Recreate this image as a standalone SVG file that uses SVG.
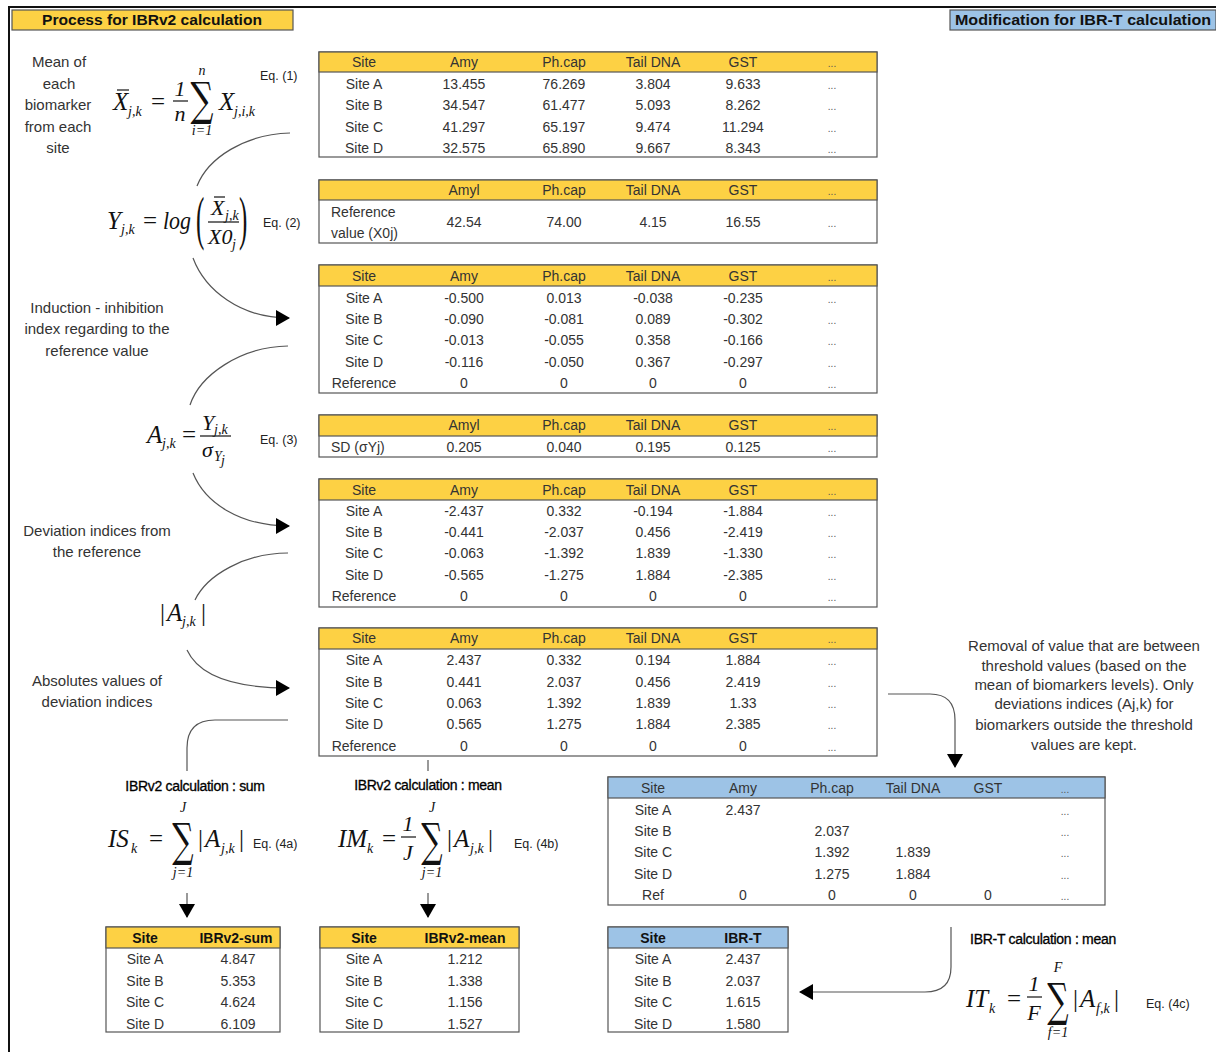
<svg xmlns="http://www.w3.org/2000/svg" width="1216" height="1052" viewBox="0 0 1216 1052">
<defs>
<marker id="ah" markerWidth="14" markerHeight="16" refX="13" refY="8" orient="auto" markerUnits="userSpaceOnUse">
<path d="M0,0 L14,8 L0,16 Z" fill="#000"/>
</marker>
<style>
.t{font-family:"Liberation Sans",Arial,sans-serif;font-size:14px;fill:#333;text-anchor:middle}
.l{font-family:"Liberation Sans",Arial,sans-serif;font-size:14px;fill:#333}
.p{font-family:"Liberation Sans",Arial,sans-serif;font-size:15px;fill:#333;text-anchor:middle}
.d{font-family:"Liberation Sans",Arial,sans-serif;font-size:10px;fill:#555;text-anchor:middle}
.b{font-family:"Liberation Sans",Arial,sans-serif;font-size:14px;font-weight:bold;fill:#111;text-anchor:middle}
.hd{font-family:"Liberation Sans",Arial,sans-serif;font-size:15px;font-weight:bold;fill:#111}
.lab{font-family:"Liberation Sans",Arial,sans-serif;font-size:14px;fill:#000;stroke:#000;stroke-width:0.3;text-anchor:middle;letter-spacing:-0.3px}
.m{font-family:"Liberation Serif","DejaVu Serif",serif;font-style:italic;font-size:25px;fill:#111}
.mf{font-family:"Liberation Serif","DejaVu Serif",serif;font-style:italic;font-size:22px;fill:#111}
.ms{font-family:"Liberation Serif","DejaVu Serif",serif;font-style:italic;font-size:14px;fill:#111}
.mr{font-family:"Liberation Serif","DejaVu Serif",serif;font-size:25px;fill:#111}
.sig{font-family:"DejaVu Serif","Liberation Serif",serif;font-size:46px;fill:#111;text-anchor:middle}
.eq{font-family:"Liberation Sans",Arial,sans-serif;font-size:12.5px;fill:#222}
.box{fill:#fff;stroke:#555;stroke-width:1.2}
.hy{fill:#FDD144;stroke:#555;stroke-width:1.2}
.hb{fill:#9DC3E6;stroke:#555;stroke-width:1.2}
.c{fill:none;stroke:#555;stroke-width:1.2}
.fl{stroke:#111;stroke-width:1.2}
</style>
</defs>
<rect width="1216" height="1052" fill="#fff"/>
<!-- frame -->
<path d="M9,1052 L9,7 L1216,7" fill="none" stroke="#111" stroke-width="2"/>
<g id="hdr-left"><rect x="12" y="10" width="281" height="20" class="hy"/><text x="42" y="25" class="hd" textLength="220" lengthAdjust="spacingAndGlyphs">Process for IBRv2 calculation</text></g>
<g id="hdr-right"><rect x="950" y="10" width="266" height="20" class="hb"/><text x="955" y="25" class="hd" textLength="256" lengthAdjust="spacingAndGlyphs">Modification for IBR-T calculation</text></g>

<!-- left labels -->
<g id="lbl-mean">
<text x="59" y="67" class="p">Mean of</text>
<text x="59" y="89" class="p">each</text>
<text x="58" y="110" class="p">biomarker</text>
<text x="58" y="132" class="p">from each</text>
<text x="58" y="153" class="p">site</text>
</g>
<g id="lbl-induction">
<text x="97" y="313" class="p">Induction - inhibition</text>
<text x="97" y="334" class="p">index regarding to the</text>
<text x="97" y="356" class="p">reference value</text>
</g>
<g id="lbl-dev">
<text x="97" y="536" class="p">Deviation indices from</text>
<text x="97" y="557" class="p">the reference</text>
</g>
<g id="lbl-abs">
<text x="97" y="686" class="p">Absolutes values of</text>
<text x="97" y="707" class="p">deviation indices</text>
</g>

<!-- Eq 1 -->
<g id="eq1">
<text x="113" y="110" class="m">X</text>
<line x1="117" y1="90" x2="129" y2="90" class="fl"/>
<text x="128" y="116" class="ms">j,k</text>
<text x="151" y="110" class="mr">=</text>
<text x="180" y="96" class="mf" font-style="normal" text-anchor="middle">1</text>
<line x1="173" y1="101" x2="188" y2="101" class="fl"/>
<text x="180" y="121" class="mf" text-anchor="middle">n</text>
<text transform="translate(202,115) scale(0.7,1)" class="sig" font-size="36">∑</text>
<text x="202" y="75" class="ms" font-size="12" text-anchor="middle">n</text>
<text x="202" y="135" class="ms" font-size="13" text-anchor="middle">i=1</text>
<text x="219" y="110" class="m">X</text>
<text x="234" y="116" class="ms">j,i,k</text>
<text x="260" y="80" class="eq">Eq. (1)</text>
</g>

<!-- Eq 2 -->
<g id="eq2">
<text x="107" y="229" class="m">Y</text>
<text x="121" y="234" class="ms">j,k</text>
<text x="143" y="229" class="mr">=</text>
<text x="163" y="229" class="m" textLength="28" lengthAdjust="spacingAndGlyphs">log</text>
<text transform="translate(196,238) scale(1,2.4)" class="mr">(</text>
<text x="211" y="215" class="mf">X</text>
<line x1="214" y1="197" x2="225" y2="197" class="fl"/>
<text x="225" y="220" class="ms" font-size="13">j,k</text>
<line x1="208" y1="222" x2="239" y2="222" class="fl"/>
<text x="208" y="244" class="mf">X0</text>
<text x="232" y="249" class="ms" font-size="13">j</text>
<text transform="translate(239,238) scale(1,2.4)" class="mr">)</text>
<text x="263" y="227" class="eq">Eq. (2)</text>
</g>

<!-- Eq 3 -->
<g id="eq3">
<text x="147" y="443" class="m">A</text>
<text x="162" y="448" class="ms">j,k</text>
<text x="182" y="443" class="mr">=</text>
<text x="202" y="430" class="mf">Y</text>
<text x="214" y="434" class="ms" font-size="13">j,k</text>
<line x1="200" y1="436" x2="231" y2="436" class="fl"/>
<text x="202" y="457" class="mf">σ</text>
<text x="214" y="461" class="ms" font-size="12">Y</text>
<text x="221" y="465" class="ms" font-size="9">j</text>
<text x="260" y="444" class="eq">Eq. (3)</text>
</g>

<!-- |A| -->
<g id="absA">
<text x="160" y="621" class="mr">|</text>
<text x="167" y="621" class="m">A</text>
<text x="182" y="626" class="ms">j,k</text>
<text x="201" y="621" class="mr">|</text>
</g>

<!-- Eq 4a -->
<g id="eq4a">
<text x="195" y="791" class="lab">IBRv2 calculation : sum</text>
<text x="108" y="847" class="m">IS</text>
<text x="131" y="853" class="ms" font-size="15">k</text>
<text x="149" y="847" class="mr">=</text>
<text transform="translate(183,856) scale(0.65,1)" class="sig">∑</text>
<text x="183" y="812" class="ms" text-anchor="middle">J</text>
<text x="183" y="877" class="ms" text-anchor="middle">j=1</text>
<text x="198" y="847" class="mr">|</text>
<text x="205" y="847" class="m">A</text>
<text x="221" y="853" class="ms">j,k</text>
<text x="239" y="847" class="mr">|</text>
<text x="253" y="848" class="eq" font-size="13">Eq. (4a)</text>
</g>

<!-- Eq 4b -->
<g id="eq4b">
<text x="428" y="790" class="lab">IBRv2 calculation : mean</text>
<text x="338" y="847" class="m">IM</text>
<text x="367" y="853" class="ms" font-size="15">k</text>
<text x="382" y="847" class="mr">=</text>
<text x="408" y="831" class="mf" font-style="normal" text-anchor="middle">1</text>
<line x1="401" y1="837" x2="416" y2="837" class="fl"/>
<text x="408" y="860" class="mf" text-anchor="middle">J</text>
<text transform="translate(432,856) scale(0.65,1)" class="sig">∑</text>
<text x="432" y="812" class="ms" text-anchor="middle">J</text>
<text x="432" y="877" class="ms" text-anchor="middle">j=1</text>
<text x="447" y="847" class="mr">|</text>
<text x="454" y="847" class="m">A</text>
<text x="470" y="853" class="ms">j,k</text>
<text x="488" y="847" class="mr">|</text>
<text x="514" y="848" class="eq" font-size="13">Eq. (4b)</text>
</g>

<!-- Eq 4c -->
<g id="eq4c">
<text x="1043" y="944" class="lab">IBR-T calculation : mean</text>
<text x="966" y="1007" class="m">IT</text>
<text x="989" y="1013" class="ms" font-size="15">k</text>
<text x="1007" y="1007" class="mr">=</text>
<text x="1034" y="991" class="mf" font-style="normal" text-anchor="middle">1</text>
<line x1="1027" y1="997" x2="1042" y2="997" class="fl"/>
<text x="1034" y="1020" class="mf" text-anchor="middle">F</text>
<text transform="translate(1058,1016) scale(0.65,1)" class="sig">∑</text>
<text x="1058" y="972" class="ms" text-anchor="middle">F</text>
<text x="1058" y="1037" class="ms" text-anchor="middle">f=1</text>
<text x="1073" y="1007" class="mr">|</text>
<text x="1080" y="1007" class="m">A</text>
<text x="1096" y="1013" class="ms">f,k</text>
<text x="1114" y="1007" class="mr">|</text>
<text x="1146" y="1008" class="eq" font-size="13">Eq. (4c)</text>
</g>

<!-- right note -->
<g id="note-threshold">
<text x="1084" y="651" class="p">Removal of value that are between</text>
<text x="1084" y="671" class="p">threshold values (based on the</text>
<text x="1084" y="690" class="p">mean of biomarkers  levels). Only</text>
<text x="1084" y="709" class="p">deviations indices (Aj,k) for</text>
<text x="1084" y="730" class="p">biomarkers outside the threshold</text>
<text x="1084" y="750" class="p">values are kept.</text>
</g>

<!-- Table 1 -->
<g id="tbl-means">
<rect x="319" y="52" width="558" height="105" class="box"/>
<rect x="319" y="52" width="558" height="20" class="hy"/>
<text x="364" y="67" class="t">Site</text><text x="464" y="67" class="t">Amy</text><text x="564" y="67" class="t">Ph.cap</text><text x="653" y="67" class="t">Tail DNA</text><text x="743" y="67" class="t">GST</text><text x="832" y="67" class="d">...</text>
<text x="364" y="89" class="t">Site A</text><text x="464" y="89" class="t">13.455</text><text x="564" y="89" class="t">76.269</text><text x="653" y="89" class="t">3.804</text><text x="743" y="89" class="t">9.633</text><text x="832" y="89" class="d">...</text>
<text x="364" y="110" class="t">Site B</text><text x="464" y="110" class="t">34.547</text><text x="564" y="110" class="t">61.477</text><text x="653" y="110" class="t">5.093</text><text x="743" y="110" class="t">8.262</text><text x="832" y="110" class="d">...</text>
<text x="364" y="132" class="t">Site C</text><text x="464" y="132" class="t">41.297</text><text x="564" y="132" class="t">65.197</text><text x="653" y="132" class="t">9.474</text><text x="743" y="132" class="t">11.294</text><text x="832" y="132" class="d">...</text>
<text x="364" y="153" class="t">Site D</text><text x="464" y="153" class="t">32.575</text><text x="564" y="153" class="t">65.890</text><text x="653" y="153" class="t">9.667</text><text x="743" y="153" class="t">8.343</text><text x="832" y="153" class="d">...</text>
</g>

<!-- Table 2 -->
<g id="tbl-ref">
<rect x="319" y="180" width="558" height="63" class="box"/>
<rect x="319" y="180" width="558" height="20" class="hy"/>
<text x="464" y="195" class="t">Amyl</text><text x="564" y="195" class="t">Ph.cap</text><text x="653" y="195" class="t">Tail DNA</text><text x="743" y="195" class="t">GST</text><text x="832" y="195" class="d">...</text>
<text x="331" y="217" class="l">Reference</text>
<text x="331" y="238" class="l">value (X0j)</text>
<text x="464" y="227" class="t">42.54</text><text x="564" y="227" class="t">74.00</text><text x="653" y="227" class="t">4.15</text><text x="743" y="227" class="t">16.55</text><text x="832" y="227" class="d">...</text>
</g>

<!-- Table 3 -->
<g id="tbl-log">
<rect x="319" y="265" width="558" height="128" class="box"/>
<rect x="319" y="265" width="558" height="21" class="hy"/>
<text x="364" y="281" class="t">Site</text><text x="464" y="281" class="t">Amy</text><text x="564" y="281" class="t">Ph.cap</text><text x="653" y="281" class="t">Tail DNA</text><text x="743" y="281" class="t">GST</text><text x="832" y="281" class="d">...</text>
<text x="364" y="303" class="t">Site A</text><text x="464" y="303" class="t">-0.500</text><text x="564" y="303" class="t">0.013</text><text x="653" y="303" class="t">-0.038</text><text x="743" y="303" class="t">-0.235</text><text x="832" y="303" class="d">...</text>
<text x="364" y="324" class="t">Site B</text><text x="464" y="324" class="t">-0.090</text><text x="564" y="324" class="t">-0.081</text><text x="653" y="324" class="t">0.089</text><text x="743" y="324" class="t">-0.302</text><text x="832" y="324" class="d">...</text>
<text x="364" y="345" class="t">Site C</text><text x="464" y="345" class="t">-0.013</text><text x="564" y="345" class="t">-0.055</text><text x="653" y="345" class="t">0.358</text><text x="743" y="345" class="t">-0.166</text><text x="832" y="345" class="d">...</text>
<text x="364" y="367" class="t">Site D</text><text x="464" y="367" class="t">-0.116</text><text x="564" y="367" class="t">-0.050</text><text x="653" y="367" class="t">0.367</text><text x="743" y="367" class="t">-0.297</text><text x="832" y="367" class="d">...</text>
<text x="364" y="388" class="t">Reference</text><text x="464" y="388" class="t">0</text><text x="564" y="388" class="t">0</text><text x="653" y="388" class="t">0</text><text x="743" y="388" class="t">0</text><text x="832" y="388" class="d">...</text>
</g>

<!-- Table 4 -->
<g id="tbl-sd">
<rect x="319" y="415" width="558" height="42" class="box"/>
<rect x="319" y="415" width="558" height="21" class="hy"/>
<text x="464" y="430" class="t">Amyl</text><text x="564" y="430" class="t">Ph.cap</text><text x="653" y="430" class="t">Tail DNA</text><text x="743" y="430" class="t">GST</text><text x="832" y="430" class="d">...</text>
<text x="331" y="452" class="l">SD (σYj)</text>
<text x="464" y="452" class="t">0.205</text><text x="564" y="452" class="t">0.040</text><text x="653" y="452" class="t">0.195</text><text x="743" y="452" class="t">0.125</text><text x="832" y="452" class="d">...</text>
</g>

<!-- Table 5 -->
<g id="tbl-dev">
<rect x="319" y="479" width="558" height="128" class="box"/>
<rect x="319" y="479" width="558" height="21" class="hy"/>
<text x="364" y="495" class="t">Site</text><text x="464" y="495" class="t">Amy</text><text x="564" y="495" class="t">Ph.cap</text><text x="653" y="495" class="t">Tail DNA</text><text x="743" y="495" class="t">GST</text><text x="832" y="495" class="d">...</text>
<text x="364" y="516" class="t">Site A</text><text x="464" y="516" class="t">-2.437</text><text x="564" y="516" class="t">0.332</text><text x="653" y="516" class="t">-0.194</text><text x="743" y="516" class="t">-1.884</text><text x="832" y="516" class="d">...</text>
<text x="364" y="537" class="t">Site B</text><text x="464" y="537" class="t">-0.441</text><text x="564" y="537" class="t">-2.037</text><text x="653" y="537" class="t">0.456</text><text x="743" y="537" class="t">-2.419</text><text x="832" y="537" class="d">...</text>
<text x="364" y="558" class="t">Site C</text><text x="464" y="558" class="t">-0.063</text><text x="564" y="558" class="t">-1.392</text><text x="653" y="558" class="t">1.839</text><text x="743" y="558" class="t">-1.330</text><text x="832" y="558" class="d">...</text>
<text x="364" y="580" class="t">Site D</text><text x="464" y="580" class="t">-0.565</text><text x="564" y="580" class="t">-1.275</text><text x="653" y="580" class="t">1.884</text><text x="743" y="580" class="t">-2.385</text><text x="832" y="580" class="d">...</text>
<text x="364" y="601" class="t">Reference</text><text x="464" y="601" class="t">0</text><text x="564" y="601" class="t">0</text><text x="653" y="601" class="t">0</text><text x="743" y="601" class="t">0</text><text x="832" y="601" class="d">...</text>
</g>

<!-- Table 6 -->
<g id="tbl-abs">
<rect x="319" y="628" width="558" height="128" class="box"/>
<rect x="319" y="628" width="558" height="21" class="hy"/>
<text x="364" y="643" class="t">Site</text><text x="464" y="643" class="t">Amy</text><text x="564" y="643" class="t">Ph.cap</text><text x="653" y="643" class="t">Tail DNA</text><text x="743" y="643" class="t">GST</text><text x="832" y="643" class="d">...</text>
<text x="364" y="665" class="t">Site A</text><text x="464" y="665" class="t">2.437</text><text x="564" y="665" class="t">0.332</text><text x="653" y="665" class="t">0.194</text><text x="743" y="665" class="t">1.884</text><text x="832" y="665" class="d">...</text>
<text x="364" y="687" class="t">Site B</text><text x="464" y="687" class="t">0.441</text><text x="564" y="687" class="t">2.037</text><text x="653" y="687" class="t">0.456</text><text x="743" y="687" class="t">2.419</text><text x="832" y="687" class="d">...</text>
<text x="364" y="708" class="t">Site C</text><text x="464" y="708" class="t">0.063</text><text x="564" y="708" class="t">1.392</text><text x="653" y="708" class="t">1.839</text><text x="743" y="708" class="t">1.33</text><text x="832" y="708" class="d">...</text>
<text x="364" y="729" class="t">Site D</text><text x="464" y="729" class="t">0.565</text><text x="564" y="729" class="t">1.275</text><text x="653" y="729" class="t">1.884</text><text x="743" y="729" class="t">2.385</text><text x="832" y="729" class="d">...</text>
<text x="364" y="751" class="t">Reference</text><text x="464" y="751" class="t">0</text><text x="564" y="751" class="t">0</text><text x="653" y="751" class="t">0</text><text x="743" y="751" class="t">0</text><text x="832" y="751" class="d">...</text>
</g>

<!-- Blue table -->
<g id="tbl-threshold">
<rect x="608" y="777" width="497" height="128" class="box"/>
<rect x="608" y="777" width="497" height="21" class="hb"/>
<text x="653" y="793" class="t">Site</text><text x="743" y="793" class="t">Amy</text><text x="832" y="793" class="t">Ph.cap</text><text x="913" y="793" class="t">Tail DNA</text><text x="988" y="793" class="t">GST</text><text x="1065" y="793" class="d">...</text>
<text x="653" y="815" class="t">Site A</text><text x="743" y="815" class="t">2.437</text><text x="1065" y="815" class="d">...</text>
<text x="653" y="836" class="t">Site B</text><text x="832" y="836" class="t">2.037</text><text x="1065" y="836" class="d">...</text>
<text x="653" y="857" class="t">Site C</text><text x="832" y="857" class="t">1.392</text><text x="913" y="857" class="t">1.839</text><text x="1065" y="857" class="d">...</text>
<text x="653" y="879" class="t">Site D</text><text x="832" y="879" class="t">1.275</text><text x="913" y="879" class="t">1.884</text><text x="1065" y="879" class="d">...</text>
<text x="653" y="900" class="t">Ref</text><text x="743" y="900" class="t">0</text><text x="832" y="900" class="t">0</text><text x="913" y="900" class="t">0</text><text x="988" y="900" class="t">0</text><text x="1065" y="900" class="d">...</text>
</g>

<!-- Bottom tables -->
<g id="tbl-sum">
<rect x="106" y="927" width="174" height="105" class="box"/>
<rect x="106" y="927" width="174" height="21" class="hy"/>
<text x="145" y="943" class="b">Site</text><text x="236" y="943" class="b">IBRv2-sum</text>
<text x="145" y="964" class="t">Site A</text><text x="238" y="964" class="t">4.847</text>
<text x="145" y="986" class="t">Site B</text><text x="238" y="986" class="t">5.353</text>
<text x="145" y="1007" class="t">Site C</text><text x="238" y="1007" class="t">4.624</text>
<text x="145" y="1029" class="t">Site D</text><text x="238" y="1029" class="t">6.109</text>
</g>
<g id="tbl-mean">
<rect x="320" y="927" width="199" height="105" class="box"/>
<rect x="320" y="927" width="199" height="21" class="hy"/>
<text x="364" y="943" class="b">Site</text><text x="465" y="943" class="b">IBRv2-mean</text>
<text x="364" y="964" class="t">Site A</text><text x="465" y="964" class="t">1.212</text>
<text x="364" y="986" class="t">Site B</text><text x="465" y="986" class="t">1.338</text>
<text x="364" y="1007" class="t">Site C</text><text x="465" y="1007" class="t">1.156</text>
<text x="364" y="1029" class="t">Site D</text><text x="465" y="1029" class="t">1.527</text>
</g>
<g id="tbl-ibrt">
<rect x="608" y="927" width="180" height="105" class="box"/>
<rect x="608" y="927" width="180" height="21" class="hb"/>
<text x="653" y="943" class="b">Site</text><text x="743" y="943" class="b">IBR-T</text>
<text x="653" y="964" class="t">Site A</text><text x="743" y="964" class="t">2.437</text>
<text x="653" y="986" class="t">Site B</text><text x="743" y="986" class="t">2.037</text>
<text x="653" y="1007" class="t">Site C</text><text x="743" y="1007" class="t">1.615</text>
<text x="653" y="1029" class="t">Site D</text><text x="743" y="1029" class="t">1.580</text>
</g>

<!-- connectors -->
<g id="connectors">
<path d="M290,133 C245,134 208,158 197,186" class="c"/>
<path d="M193,258 C205,290 240,318 289,318" class="c" marker-end="url(#ah)"/>
<path d="M288,346 C240,347 200,375 190,405" class="c"/>
<path d="M193,473 C205,503 240,526 289,526" class="c" marker-end="url(#ah)"/>
<path d="M288,553 C245,553 207,575 195,600" class="c"/>
<path d="M187,650 C200,678 240,688 289,688" class="c" marker-end="url(#ah)"/>
<path d="M288,720 L215,720 Q187,720 187,748 L187,771" class="c"/>
<path d="M428,760 L428,771" class="c"/>
<path d="M187,893 L187,917" class="c" marker-end="url(#ah)"/>
<path d="M428,893 L428,917" class="c" marker-end="url(#ah)"/>
<path d="M888,694 L930,694 Q955,694 955,720 L955,767" class="c" marker-end="url(#ah)"/>
<path d="M951,927 L951,967 Q951,992 925,992 L800,992" class="c" marker-end="url(#ah)"/>
</g>
</svg>
